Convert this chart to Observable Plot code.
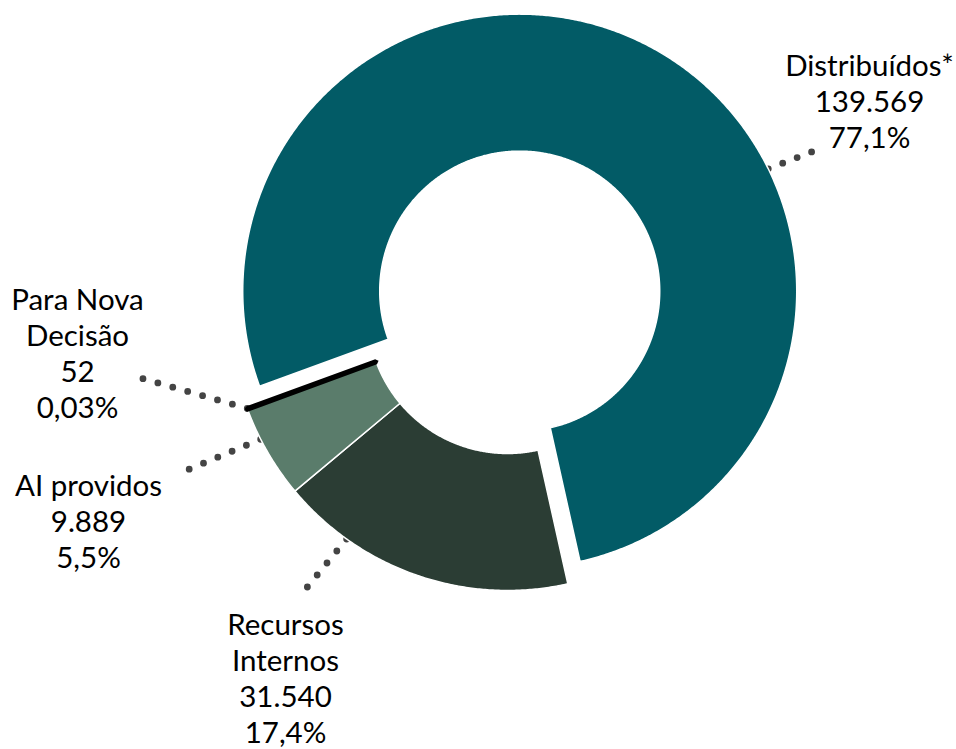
<!DOCTYPE html>
<html>
<head>
<meta charset="utf-8">
<script src="https://cdn.jsdelivr.net/npm/d3@7"></script>
<script src="https://cdn.jsdelivr.net/npm/@observablehq/plot@0.6"></script>
<style>
  html, body { margin: 0; padding: 0; background: #ffffff; }
  #chart { width: 956px; height: 749px; }
</style>
</head>
<body>
<div id="chart"></div>
<script>
// ---- data ----
const categories = ["Distribuídos*", "Recursos Internos", "AI providos", "Para Nova Decisão"];
const labelNames = ["Distribuídos*", "Recursos\nInternos", "AI providos", "Para Nova\nDecisão"];
const values = [139569, 31540, 9889, 52];
const pctLabels = ["77,1%", "17,4%", "5,5%", "0,03%"];
const colors = ["#025b66", "#2b3d34", "#5a7c6b", "#000000"];

// ---- layout (chart units = px, origin at donut centre, y down) ----
const deg = Math.PI / 180;
const startAngle = 249.9 * deg;
const outerR = 277, innerR = 140;
const explode = [25.5, 0, 0, 0];
// label block centres and leader lines (angle on slice edge -> end point)
const labelPos = [[362, -213], [-222, 364], [-419, 207], [-430, 39]];
const leaderAngle = [63.8, 215.5, 243, 249.95];
const leaderEnd = [[318, -167], [-203, 277], [-331, 161], [-379, 61]];

const fmt = d3.formatLocale({decimal: ",", thousands: ".", grouping: [3], currency: ["R$", ""]}).format(",d");

const arcs = d3.pie().sort(null).value(d => d).startAngle(startAngle).endAngle(startAngle + 2 * Math.PI)(values);

const slicePts = [];
const leaders = [];
const labels = [];
arcs.forEach((a, i) => {
  const mid = (a.startAngle + a.endAngle) / 2;
  const ox = explode[i] * Math.sin(mid), oy = -explode[i] * Math.cos(mid);
  const n = Math.max(2, Math.ceil((a.endAngle - a.startAngle) / (0.4 * deg)));
  const pts = [];
  for (let k = 0; k <= n; k++) {
    const t = a.startAngle + (a.endAngle - a.startAngle) * k / n;
    pts.push({x: ox + outerR * Math.sin(t), y: oy - outerR * Math.cos(t)});
  }
  for (let k = n; k >= 0; k--) {
    const t = a.startAngle + (a.endAngle - a.startAngle) * k / n;
    pts.push({x: ox + innerR * Math.sin(t), y: oy - innerR * Math.cos(t)});
  }
  pts.push(pts[0]);
  pts.forEach(p => slicePts.push({...p, key: categories[i]}));
  const la = leaderAngle[i] * deg;
  leaders.push({x: ox + outerR * Math.sin(la), y: oy - outerR * Math.cos(la), key: categories[i]});
  leaders.push({x: leaderEnd[i][0], y: leaderEnd[i][1], key: categories[i]});
  labels.push({x: labelPos[i][0], y: labelPos[i][1], text: `${labelNames[i]}\n${fmt(values[i])}\n${pctLabels[i]}`});
});

const tiny = categories[3];
const chart = Plot.plot({
  width: 956,
  height: 749,
  margin: 0,
  x: {domain: [-507, 449], axis: null},
  y: {domain: [-313, 436], reverse: true, axis: null},
  color: {domain: categories, range: colors},
  style: {fontFamily: "Lato, 'Open Sans', sans-serif", background: "#ffffff"},
  marks: [
    Plot.line(leaders, {x: "x", y: "y", z: "key", stroke: "#444444", strokeWidth: 6.8,
      strokeDasharray: "0,15.5", strokeLinecap: "round"}),
    Plot.line(slicePts.filter(d => d.key !== tiny), {x: "x", y: "y", z: "key", fill: "key",
      stroke: "#ffffff", strokeWidth: 1.5, strokeLinejoin: "round"}),
    Plot.line(slicePts.filter(d => d.key === tiny), {x: "x", y: "y", z: "key", fill: "key",
      stroke: "#000000", strokeWidth: 5, strokeLinejoin: "miter"}),
    Plot.text(labels, {x: "x", y: "y", text: "text", fontSize: 29.5, lineHeight: 1.22,
      textAnchor: "middle", fill: "#000000"})
  ]
});
document.getElementById("chart").appendChild(chart);
</script>
</body>
</html>
